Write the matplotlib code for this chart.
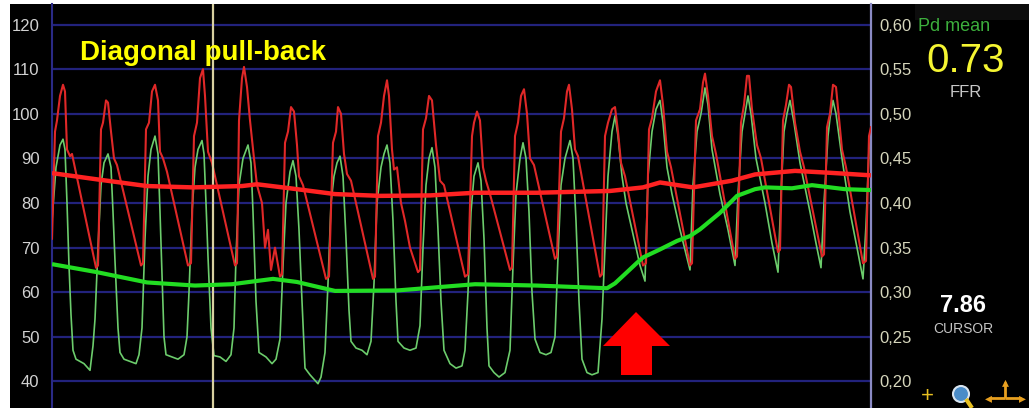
import matplotlib.pyplot as plt
from matplotlib.patches import Rectangle, Polygon, Ellipse
from matplotlib.ticker import FuncFormatter

FS = 50  # recorder samples per second

# aortic pressure (Pa), phasic trace: sample index, mmHg
pa_n = [0, 3, 5, 8, 11, 13, 15, 18, 20, 44,
        46, 49, 51, 54, 56, 59, 62, 65, 89,
        91, 94, 97, 100, 103, 106, 108, 111, 115, 136,
        139, 142, 145, 148, 151, 153, 156, 160, 183,
        185, 187, 190, 192, 195, 198, 202, 205, 210, 213, 216, 219, 223, 228,
        230, 233, 236, 239, 242, 245, 247, 251, 274,
        277, 281, 284, 286, 289, 292, 295, 299, 321,
        323, 326, 329, 332, 335, 337, 340, 342, 345, 349, 353, 358, 366,
        368, 371, 374, 377, 380, 384, 388, 392, 413,
        416, 420, 422, 425, 428, 431, 434, 438, 458,
        460, 463, 466, 469, 472, 475, 478, 482, 503,
        505, 509, 512, 515, 517, 520, 523, 526, 548,
        550, 553, 556, 560, 563, 566, 569, 573, 591,
        594, 597, 600, 604, 608, 611, 615, 619, 638,
        640, 644, 648, 651, 653, 656, 660, 664, 683,
        685, 689, 692, 695, 697, 700, 705, 709, 726,
        728, 731, 734, 737, 739, 743, 748, 752, 770,
        772, 775, 778, 781, 784, 787, 790, 794, 811,
        814, 817, 819]
pa_p = [72, 96, 98.5, 104, 106.5, 105, 92, 90.5, 91, 65.5,
        66, 96.5, 98, 103, 102.5, 96, 90, 88.5, 66,
        66.5, 96.5, 98, 105, 106.5, 103, 91.5, 90, 87, 66,
        66.5, 95, 98, 108, 110, 104, 91.5, 89, 66,
        66.5, 98.5, 108, 110.5, 106, 98.5, 90, 84, 80, 70, 74, 65, 70, 63.5,
        64, 93.5, 96, 101.5, 100.5, 93, 86, 84, 63,
        63.5, 93.5, 96, 101.5, 100, 91, 86.5, 85, 63,
        63.5, 95, 98, 104, 107.5, 104, 92, 87.5, 88, 80, 76, 70, 64.5,
        65, 96.5, 99, 104, 103, 93, 85, 84, 63.5,
        64, 95, 98, 100.5, 98.5, 88, 85, 82, 65,
        65.5, 95, 98, 104, 105.5, 100, 90, 88.5, 67.5,
        68, 96, 99, 105, 106.5, 101, 92, 90.5, 63.5,
        64, 95, 98, 101, 101.5, 96, 89, 86, 66,
        66.5, 96.5, 99, 105, 107.5, 102, 91.5, 88, 66,
        66.5, 98.5, 101, 107, 109, 104, 95, 91, 67.5,
        68, 98, 102, 108.5, 108.5, 101, 93, 90, 69,
        69.5, 98.5, 102, 106.5, 106, 98, 91.5, 88, 68,
        68.5, 97, 100, 106.5, 106, 99, 92, 88, 66.5,
        67, 95, 97]

# distal pressure (Pd), phasic trace
pd_n = [0, 4, 8, 11, 13, 15, 17, 19, 21, 24, 28, 32, 36, 38, 41, 43,
        46, 49, 52, 56, 59, 61, 63, 66, 68, 72, 78, 84, 87, 90,
        93, 96, 99, 103, 106, 108, 110, 112, 114, 120, 126, 132, 135, 137,
        140, 143, 146, 150, 152, 154, 156, 159, 162, 168, 174, 179, 182,
        184, 187, 191, 196, 199, 201, 204, 207, 214, 220, 224, 228,
        231, 234, 238, 241, 244, 247, 250, 253, 258, 262, 266, 269, 273,
        276, 279, 282, 285, 288, 291, 294, 297, 299, 304, 310, 315, 319,
        322, 325, 329, 332, 335, 338, 341, 344, 346, 352, 358, 364, 368,
        371, 374, 377, 380, 383, 386, 389, 392, 398, 404, 410, 413,
        416, 419, 422, 426, 429, 432, 435, 437, 442, 447, 453, 458,
        461, 464, 468, 471, 474, 477, 480, 483, 488, 494, 499, 503,
        506, 509, 513, 518, 521, 524, 527, 530, 535, 540, 546, 550,
        553, 556, 560, 563, 566, 570, 574, 578, 582, 588, 593,
        596, 600, 604, 608, 611, 615, 620, 628, 638,
        641, 645, 649, 653, 656, 660, 668, 676, 683,
        686, 690, 693, 696, 699, 704, 713, 720, 726,
        729, 732, 735, 738, 742, 748, 758, 764, 769,
        772, 776, 778, 781, 784, 790, 798, 805, 811,
        814, 817, 819]
pd_p = [76, 88, 93, 94.3, 92, 80, 66, 55, 47, 45, 44.5, 44, 43, 42.5, 48, 54,
        70, 84, 89, 91, 88, 78, 67, 52, 46.5, 45, 44.5, 44, 46, 52,
        72, 86, 92, 95, 91, 78, 64, 50, 46, 45.5, 45, 46, 50, 60,
        78, 88, 92, 94, 91, 80, 68, 52, 45.8, 45.5, 44.5, 46, 52,
        68, 84, 90, 93, 89, 78, 58, 46.5, 45.5, 44, 45, 49.5,
        66, 80, 87, 89.5, 86, 74, 58, 43, 41.5, 40.5, 39.5, 41, 46.5,
        62, 80, 86, 89, 90.5, 86, 72, 56, 49, 47.5, 47, 46, 49,
        62, 80, 88, 91, 93, 89, 76, 58, 49, 47.5, 47, 47.5, 52.5,
        70, 84, 90, 92.4, 88, 74, 58, 47, 44, 43, 43.5, 47,
        60, 78, 86, 89, 85, 72, 52, 43.5, 42, 41, 42, 47,
        66, 82, 90, 93.5, 90, 78, 60, 49.5, 46.5, 46, 46.5, 50,
        68, 84, 90, 94, 90, 76, 58, 45, 42, 41.5, 42, 54,
        70, 86, 96, 99.5, 95, 86, 80, 76, 72, 66, 62.5,
        86, 96, 101, 103, 98, 88, 82, 74, 65,
        84, 96, 100, 105.8, 102, 92, 82, 74, 66,
        82, 96, 100, 104, 100, 90, 80, 71, 64.5,
        82, 96, 100, 103, 98, 89, 78, 71, 65.5,
        80, 95, 99, 103, 100, 90, 78, 70, 63,
        75, 92, 95]

# mean pressures
pa_mean_n = [0, 45, 95, 141, 190, 205, 238, 283, 328, 378, 423, 485, 558,
             591, 608, 641, 680, 703, 743, 776, 819]
pa_mean_p = [86.7, 85.3, 83.8, 83.5, 83.8, 84.2, 83.3, 82, 81.6, 81.7, 82.3,
             82.3, 82.7, 83.5, 84.6, 83.5, 85, 86.4, 87.2, 86.8, 86.2]
pd_mean_n = [0, 45, 95, 143, 180, 221, 245, 283, 345, 423, 485, 555, 563,
             575, 585, 591, 608, 625, 638, 648, 668, 685, 703, 713, 740,
             760, 793, 819]
pd_mean_p = [66.3, 64.5, 62.2, 61.5, 61.8, 63, 62.3, 60.3, 60.4, 61.8, 61.5,
             60.9, 62, 64.5, 66.6, 67.8, 69.6, 71.5, 72.6, 74.1, 77.8, 81.6,
             83.1, 83.5, 83.3, 84, 83.1, 82.9]

pressure_ticks = [40, 50, 60, 70, 80, 90, 100, 110, 120]
ratio_ticks = [0.20, 0.25, 0.30, 0.35, 0.40, 0.45, 0.50, 0.55, 0.60]
cursor_n = 161
ffr_value = 0.73
cursor_value = 7.86

W, H = 1029, 408


def fx(x):
    return x / W


def fy(y):
    return 1 - y / H


plt.rcParams['font.family'] = ['Liberation Sans', 'DejaVu Sans']

fig = plt.figure(figsize=(W / 100, H / 100), dpi=100, facecolor='white')

# black monitor background behind everything
bg = fig.add_axes([fx(10), 0, 1 - fx(10), fy(4)], zorder=0)
bg.set_facecolor('black')
bg.set_axis_off()
bg.add_patch(Rectangle((0, 0), 1, 1, transform=bg.transAxes, facecolor='black',
                       edgecolor='none'))
bg.add_patch(Rectangle(((915 - 10) / (W - 10), 1 - 16 / 404), 1, 1,
                       transform=bg.transAxes, facecolor='#0d0d0d', edgecolor='none'))

ax = fig.add_axes([fx(52), 0, (871 - 52) / W, fy(4)], zorder=1)
ax.set_facecolor('black')
ax.set_xlim(0, 819 / FS)
ax.set_ylim(34.06, 124.6)
ax.set_xticks([])
ax.set_yticks(pressure_ticks)
ax.tick_params(axis='y', length=0, pad=9, labelsize=12, labelcolor='#d2d2d2')
ax.yaxis.grid(True, color='#22227c', lw=1.6)
ax.set_axisbelow(True)
for s in ['top', 'bottom']:
    ax.spines[s].set_visible(False)
ax.spines['left'].set_color('#2a2a86')
ax.spines['left'].set_linewidth(1.5)
ax.spines['right'].set_color('#8a8ac4')
ax.spines['right'].set_linewidth(1.6)

ax2 = ax.secondary_yaxis('right', functions=(lambda p: p / 200, lambda r: r * 200))
ax2.set_yticks(ratio_ticks)
ax2.yaxis.set_major_formatter(FuncFormatter(lambda v, pos: f'{v:.2f}'.replace('.', ',')))
ax2.tick_params(axis='y', length=0, pad=6, labelsize=12, labelcolor='#d6d6bc')
ax2.spines['right'].set_visible(False)

# phasic traces
ax.plot([n / FS for n in pd_n], pd_p, color='#6ccc6c', lw=1.2, zorder=2)
ax.plot([n / FS for n in pa_n], pa_p, color='#e02828', lw=1.5, zorder=3)
ax.axvline(cursor_n / FS, color='#d8d0a0', lw=1.6, zorder=3.5)
# mean traces
ax.plot([n / FS for n in pa_mean_n], pa_mean_p, color='#ff2222', lw=3.2, zorder=4,
        solid_capstyle='butt')
ax.plot([n / FS for n in pd_mean_n], pd_mean_p, color='#22dd22', lw=3.0, zorder=5,
        solid_capstyle='butt')

fig.text(fx(80), fy(60), 'Diagonal pull-back', color='#ffff00', fontsize=20,
         fontweight='bold', va='baseline', zorder=5)

# pull-back marker
arrow = [(636, 312), (670, 346), (652, 346), (652, 375), (621, 375), (621, 346), (603, 346)]
fig.patches.append(Polygon([(fx(x), fy(y)) for x, y in arrow], closed=True,
                           transform=fig.transFigure, facecolor='#ff0000',
                           edgecolor='none', zorder=10))

# side panel readouts
fig.text(fx(918), fy(31), 'Pd mean', color='#3cae3c', fontsize=13,
         va='baseline', zorder=5)
fig.text(fx(966), fy(72), f'{ffr_value:.2f}', color='#f5f532', fontsize=29,
         ha='center', va='baseline', zorder=5)
fig.text(fx(966), fy(97), 'FFR', color='#c8c8c8', fontsize=12,
         ha='center', va='baseline', zorder=5)
fig.text(fx(963), fy(312), f'{cursor_value:.2f}', color='white', fontsize=17,
         fontweight='bold', ha='center', va='baseline', zorder=5)
fig.text(fx(963), fy(333), 'CURSOR', color='#c4c4c4', fontsize=10,
         ha='center', va='baseline', zorder=5)

# toolbar icons along the bottom edge
fig.text(fx(927), fy(397), '+', color='#e8c020', fontsize=16,
         ha='center', va='center', zorder=5)
fig.patches.append(Ellipse((fx(961), fy(394)), 16 / W, 16 / H, transform=fig.transFigure,
                           facecolor='#4a8cc8', edgecolor='#d8e4f0', lw=1.5, zorder=10))
fig.patches.append(Polygon([(fx(966), fy(399)), (fx(972), fy(408))], closed=False,
                           transform=fig.transFigure, fill=False,
                           edgecolor='#e8c020', lw=3, zorder=10))
for dx, dy in [(1, 0), (-1, 0), (0, 1)]:
    fig.patches.append(Polygon([(fx(1005), fy(398)), (fx(1005 + 16 * dx), fy(398 - 16 * dy))],
                               closed=False, transform=fig.transFigure, fill=False,
                               edgecolor='#e8a020', lw=2, zorder=10))
for x, y, mark in [(1022, 398, '▸'), (988, 398, '◂'), (1005, 382, '▴')]:
    fig.text(fx(x), fy(y), mark, color='#e8a020', fontsize=10, family=['DejaVu Sans'],
             ha='center', va='center', zorder=5)

fig.savefig('out.png', dpi=100, facecolor='white')
